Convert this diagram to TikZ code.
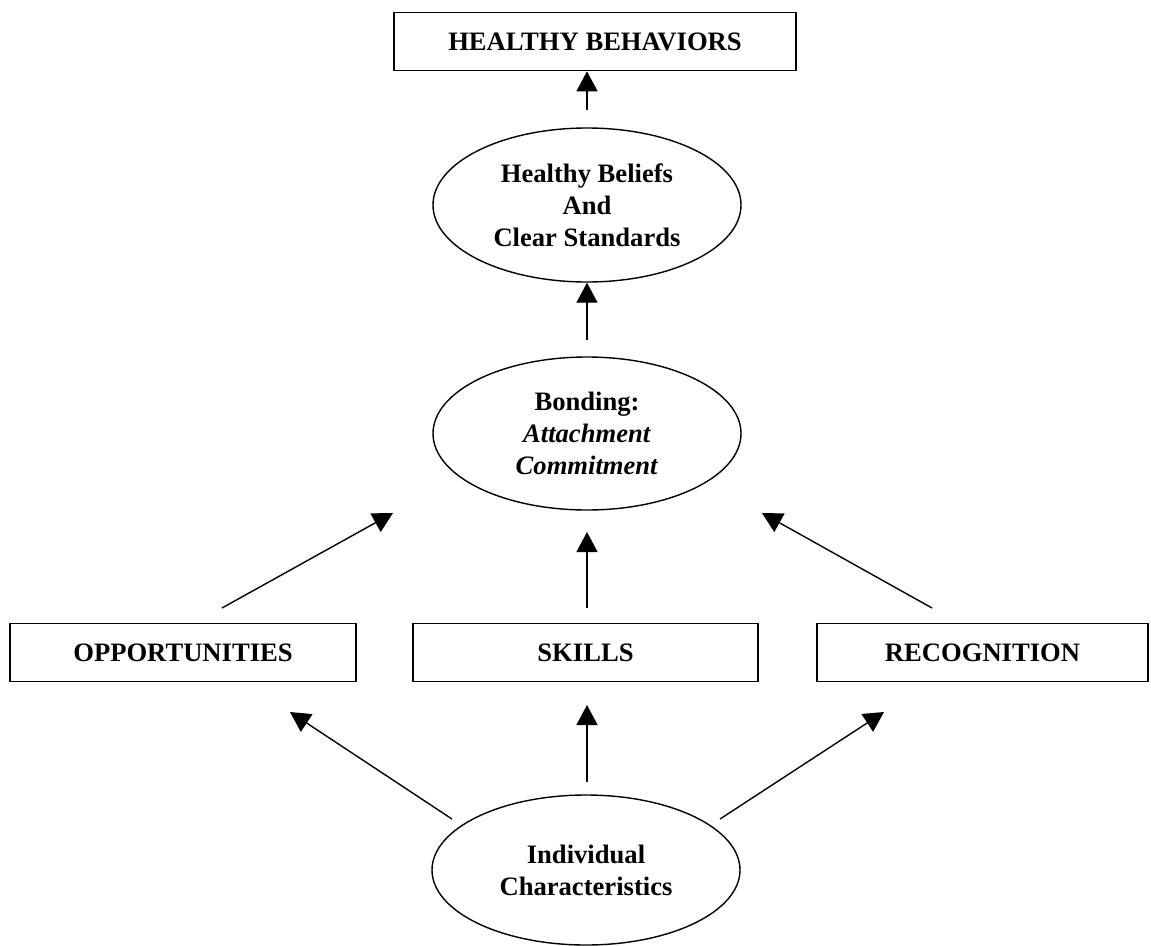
\documentclass[tikz,border=0pt]{standalone}
\usepackage{fontspec}
\setmainfont{Liberation Serif}
\usetikzlibrary{shapes.geometric,arrows.meta}
\begin{document}
\begin{tikzpicture}[x=1pt,y=1pt,
  lbl/.style={font=\fontsize{26.6}{32}\selectfont\bfseries},
  box/.style={lbl,draw,line width=1.6pt,rectangle,inner sep=0pt,minimum height=58pt},
  oval/.style={lbl,draw,line width=1.4pt,ellipse,inner sep=0pt,minimum width=308pt,minimum height=154pt,align=center},
  arr/.style={line width=1.4pt,-{Triangle[width=21pt,length=20pt]}}]
\useasboundingbox (0,0) rectangle (1151,-945);
% nodes
\node[box,minimum width=402pt] (hb) at (595,-41.5) {HEALTHY BEHAVIORS};
\node[oval] (e1) at (587,-205) {Healthy Beliefs\\And\\Clear Standards};
\node[oval,minimum height=153pt] (e2) at (587,-433.5) {Bonding:\\\textit{Attachment}\\\textit{Commitment}};
\node[box,minimum width=346pt] (opp) at (183,-652.5) {OPPORTUNITIES};
\node[box,minimum width=345pt] (sk) at (585.5,-652.5) {SKILLS};
\node[box,minimum width=331pt] (rec) at (982.5,-652.5) {RECOGNITION};
\node[oval,minimum height=150pt] (e3) at (586,-870) {Individual\\Characteristics};
% free ends of connectors
\coordinate (t1) at (587,-110);
\coordinate (t2) at (587,-340);
\coordinate (t3) at (222,-608);
\coordinate (h3) at (393,-513);
\coordinate (t4) at (587,-608);
\coordinate (h4) at (587,-532);
\coordinate (t5) at (932,-608);
\coordinate (h5) at (762,-513);
\coordinate (t6) at (452,-819);
\coordinate (h6) at (290,-712);
\coordinate (t7) at (587,-782);
\coordinate (h7) at (587,-705);
\coordinate (t8) at (720,-819);
\coordinate (h8) at (884,-712);
% connectors
\draw[arr] (t1) -- (t1 |- hb.south);
\draw[arr] (t2) -- (t2 |- e1.south);
\draw[arr] (t3) -- (h3);
\draw[arr] (t4) -- (h4);
\draw[arr] (t5) -- (h5);
\draw[arr] (t6) -- (h6);
\draw[arr] (t7) -- (h7);
\draw[arr] (t8) -- (h8);
\end{tikzpicture}
\end{document}
